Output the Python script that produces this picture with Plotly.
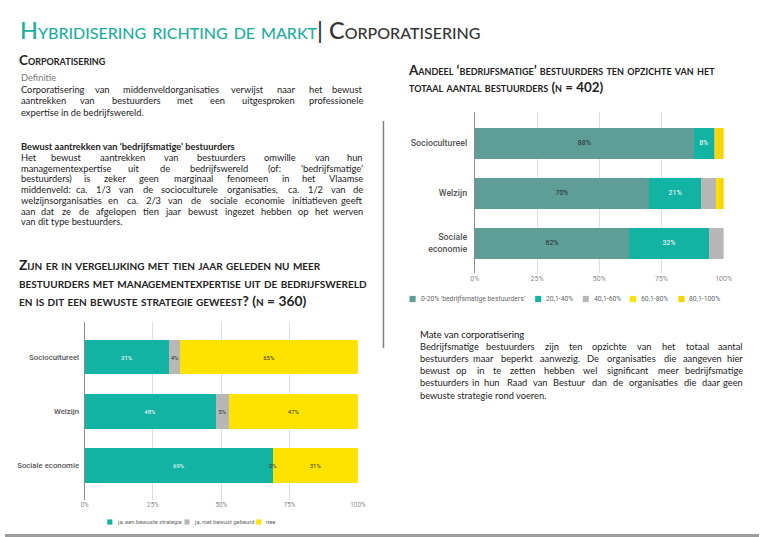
import plotly.graph_objects as go

W, H = 767, 537

# ---------------- data ----------------
left_categories = ["Sociocultureel", "Welzijn", "Sociale economie"]
left_series = ["ja, een bewuste strategie", "ja, niet bewust gebeurd", "nee"]
left_bewust = [31, 48, 69]
left_niet_bewust = [4, 5, 0]
left_nee = [65, 47, 31]

right_categories = ["Sociocultureel", "Welzijn", "Sociale economie"]
right_cat_labels = ["Sociocultureel", "Welzijn", "Sociale<br>economie"]
right_series = ["0-20% 'bedrijfsmatige bestuurders'", "20,1-40%", "40,1-60%", "60,1-80%", "80,1-100%"]
right_0_20 = [88, 70, 62]
right_20_40 = [8, 21, 32]
right_40_60 = [0.5, 6, 6]
right_60_80 = [0.5, 1, 0]
right_80_100 = [3, 2, 0]

tick_vals = [0, 25, 50, 75, 100]
tick_text = ["0%", "25%", "50%", "75%", "100%"]

# ---------------- styles ----------------
TEAL = "#13B3A3"
GREYTEAL = "#5F9D97"
GREY = "#B7B7B7"
YELLOW = "#FFE300"
YELLOW2 = "#F6D600"
left_colors = [TEAL, GREY, YELLOW]
left_txtcol = ["#ffffff", "#333333", "#333333"]
right_colors = [GREYTEAL, TEAL, GREY, YELLOW, YELLOW2]
right_txtcol = ["#1f2f2e", "#ffffff", "#333333", "#333333", "#333333"]
right_labelled = [True, True, False, False, False]

BODY = "Lato"
CHART = "Roboto"


def px(x):
    return x / W


def py(y):
    return 1 - y / H


fig = go.Figure()

left_vals = [left_bewust, left_niet_bewust, left_nee]
for name, vals, col, tcol in zip(left_series, left_vals, left_colors, left_txtcol):
    fig.add_trace(go.Bar(
        name=name, y=left_categories, x=vals, orientation="h",
        marker=dict(color=col, line=dict(width=0)), width=0.63,
        text=[f"{v}%" for v in vals], textposition="inside", insidetextanchor="middle",
        textangle=0, constraintext="none", textfont=dict(family=CHART, size=6, color=tcol),
        xaxis="x", yaxis="y", showlegend=False, hoverinfo="skip"))

right_vals = [right_0_20, right_20_40, right_40_60, right_60_80, right_80_100]
for name, vals, col, tcol, lab in zip(right_series, right_vals, right_colors, right_txtcol, right_labelled):
    fig.add_trace(go.Bar(
        name=name, y=right_categories, x=vals, orientation="h",
        marker=dict(color=col, line=dict(width=0)), width=0.62,
        text=[f"{v:g}%" if lab else "" for v in vals], textposition="inside",
        insidetextanchor="middle", textangle=0, constraintext="none",
        textfont=dict(family=CHART, size=7, color=tcol),
        xaxis="x2", yaxis="y2", showlegend=False, hoverinfo="skip"))

annotations = []
shapes = []

# labels for zero-width segments (placed through the data axes)
for s_idx, vals in enumerate(left_vals):
    for c_idx, v in enumerate(vals):
        if v == 0:
            cum = sum(left_vals[k][c_idx] for k in range(s_idx))
            annotations.append(dict(x=cum, y=left_categories[c_idx], xref="x", yref="y",
                                    text=f"{v}%", showarrow=False,
                                    font=dict(family=CHART, size=6, color="#333")))

# ---------------- text helpers ----------------
CW = {}
for ch in "abdghnopqu":
    CW[ch] = 0.55
for ch in "ceksvxyz":
    CW[ch] = 0.48
for ch in "iljI.,:;'‘’|!":
    CW[ch] = 0.25
for ch in "ft()/":
    CW[ch] = 0.33
CW["r"] = 0.36
CW["m"] = 0.83
CW["w"] = 0.75
CW["-"] = 0.33


def est(word, size, bold=False):
    w = 0
    for ch in word:
        if ch in CW:
            w += CW[ch]
        elif ch.isupper():
            w += 0.65
        elif ch.isdigit():
            w += 0.56
        else:
            w += 0.5
    return w * size * (1.04 if bold else 1.0)


def text_line(t, x0, x1, y, size, color="#222", bold=False, justify=True, family=BODY):
    f = dict(family=family, size=size, color=color, weight=700 if bold else 400)
    words = t.split()
    if not justify or len(words) < 2:
        annotations.append(dict(x=px(x0), y=py(y), xref="paper", yref="paper", text=t,
                                xanchor="left", yanchor="middle", showarrow=False, font=f))
        return
    widths = [est(w, size, bold) for w in words]
    gap = (x1 - x0 - sum(widths)) / (len(words) - 1)
    pos = x0
    for i, (w, wd) in enumerate(zip(words, widths)):
        if i == 0:
            xa, xx = "left", x0
        elif i == len(words) - 1:
            xa, xx = "right", x1
        else:
            xa, xx = "center", pos + wd / 2
        annotations.append(dict(x=px(xx), y=py(y), xref="paper", yref="paper", text=w,
                                xanchor=xa, yanchor="middle", showarrow=False, font=f))
        pos += wd + gap


def caps_block(lines, x, y_top_center, size, color="#222", weight=700):
    # multi-line small-caps block; y is the centre of the first line
    n = len(lines)
    lh = size * 1.3
    yc = y_top_center + (n - 1) * lh / 2
    annotations.append(dict(x=px(x), y=py(yc), xref="paper", yref="paper", text="<br>".join(lines),
                            xanchor="left", yanchor="middle", align="left", showarrow=False,
                            font=dict(family=BODY, size=size, color=color,
                                      weight=weight, variant="small-caps")))


# ---------------- title ----------------
annotations.append(dict(x=px(13), y=py(30), xref="paper", yref="paper",
                        text="<span style='color:#1BAE9D'>Hybridisering richting de markt</span>| Corporatisering",
                        xanchor="left", yanchor="middle", showarrow=False,
                        font=dict(family=BODY, size=23.5, color="#333333", weight=500,
                                  variant="small-caps")))

# ---------------- left column text ----------------
caps_block(["Corporatisering"], 12.5, 60, 13.5)
text_line("Definitie", 14, 365, 78, 9.3, color="#7a7a7a", justify=False)
p1 = ["Corporatisering van middenveldorganisaties verwijst naar het bewust",
      "aantrekken van bestuurders met een uitgesproken professionele",
      "expertise in de bedrijfswereld."]
for i, (t, y) in enumerate(zip(p1, [90, 101, 112])):
    text_line(t, 14, 366, y, 9.3, justify=i < len(p1) - 1)

text_line("Bewust aantrekken van ‘bedrijfsmatige’ bestuurders", 14, 366, 146.5, 9.3, bold=True, justify=False)
p2 = ["Het bewust aantrekken van bestuurders omwille van hun",
      "managementexpertise uit de bedrijfswereld (of: ‘bedrijfsmatige’",
      "bestuurders) is zeker geen marginaal fenomeen in het Vlaamse",
      "middenveld: ca. 1/3 van de socioculturele organisaties, ca. 1/2 van de",
      "welzijnsorganisaties en ca. 2/3 van de sociale economie initiatieven geeft",
      "aan dat ze de afgelopen tien jaar bewust ingezet hebben op het werven",
      "van dit type bestuurders."]
for i, (t, y) in enumerate(zip(p2, [157.5, 168.3, 179, 189.7, 200.4, 211.1, 221.8])):
    text_line(t, 14, 366, y, 9.3, justify=i < len(p2) - 1)

caps_block(["Zijn er in vergelijking met tien jaar geleden nu meer",
            "bestuurders met managementexpertise uit de bedrijfswereld",
            "en is dit een bewuste strategie geweest? (n = 360)"], 12.5, 264.5, 13.8)

# ---------------- right column text ----------------
caps_block(["Aandeel ‘bedrijfsmatige’ bestuurders ten opzichte van het",
            "totaal aantal bestuurders (n = 402)"], 408, 69.5, 13.4)

text_line("Mate van corporatisering", 420, 753, 334, 9.5, justify=False, color="#111")
p3 = ["Bedrijfsmatige bestuurders zijn ten opzichte van het totaal aantal",
      "bestuurders maar beperkt aanwezig. De organisaties die aangeven hier",
      "bewust op in te zetten hebben wel significant meer bedrijfsmatige",
      "bestuurders in hun Raad van Bestuur dan de organisaties die daar geen",
      "bewuste strategie rond voeren."]
for i, (t, y) in enumerate(zip(p3, [346, 358.3, 370.6, 382.9, 395.2])):
    text_line(t, 420, 753, y, 9.3, justify=i < len(p3) - 1)


# ---------------- legends (manual) ----------------
def legend_item(x_sq, y_c, sz, color, label, fsize):
    shapes.append(dict(type="rect", xref="paper", yref="paper",
                       x0=px(x_sq), x1=px(x_sq + sz), y0=py(y_c + sz / 2), y1=py(y_c - sz / 2),
                       fillcolor=color, line=dict(width=0)))
    annotations.append(dict(x=px(x_sq + sz + 3), y=py(y_c), xref="paper", yref="paper", text=label,
                            xanchor="left", yanchor="middle", showarrow=False,
                            font=dict(family=CHART, size=fsize, color="#666")))


for xs, col, lab in zip([104, 182.5, 255.5], left_colors, left_series):
    legend_item(xs, 522, 5.2, col, lab, 5.8)
for xs, col, lab in zip([411.5, 539.3, 587.7, 635.7, 685], right_colors, right_series):
    legend_item(xs, 299, 6.2, col, lab, 6.8)

# ---------------- decorations ----------------
shapes.append(dict(type="line", xref="paper", yref="paper", x0=px(385), x1=px(385),
                   y0=py(121), y1=py(348), line=dict(color="#808080", width=1.5)))
shapes.append(dict(type="rect", xref="paper", yref="paper", x0=0, x1=1,
                   y0=0, y1=py(534), fillcolor="#9c9c9c", line=dict(width=0)))

axis_common = dict(range=[0, 100], tickvals=tick_vals, ticktext=tick_text,
                   showgrid=True, gridcolor="#dedede", gridwidth=1, zeroline=False,
                   showline=False, ticks="", fixedrange=True)

fig.update_layout(
    width=W, height=H, autosize=False,
    margin=dict(l=0, r=0, t=0, b=0),
    paper_bgcolor="white", plot_bgcolor="white",
    barmode="stack", showlegend=False,
    xaxis=dict(domain=[px(81), px(359)], anchor="y",
               tickfont=dict(family=CHART, size=6.3, color="#8a8a8a"), **axis_common),
    yaxis=dict(domain=[py(500), py(322)], anchor="x", type="category",
               categoryorder="array", categoryarray=left_categories,
               range=[2.639, -0.657], showline=True, linecolor="#8c8c8c", linewidth=1,
               showgrid=False, ticks="", ticklabelstandoff=3, fixedrange=True,
               tickfont=dict(family=CHART, size=7.8, color="#555", weight=500)),
    xaxis2=dict(domain=[px(478), px(731)], anchor="y2",
                tickfont=dict(family=CHART, size=7, color="#8a8a8a"), **axis_common),
    yaxis2=dict(domain=[py(273), py(112)], anchor="x2", type="category",
                categoryorder="array", categoryarray=right_categories,
                tickmode="array", tickvals=right_categories, ticktext=right_cat_labels,
                range=[2.6, -0.62], showline=True, linecolor="#8c8c8c", linewidth=1,
                showgrid=False, ticks="", ticklabelstandoff=5, fixedrange=True,
                tickfont=dict(family=CHART, size=8.8, color="#555", weight=500)),
    annotations=annotations,
    shapes=shapes,
)

fig.write_html("out.html", config={"displayModeBar": False, "staticPlot": True},
               post_script="document.body.style.margin='0';document.body.style.padding='0';"
                           "document.body.style.overflow='hidden';")
